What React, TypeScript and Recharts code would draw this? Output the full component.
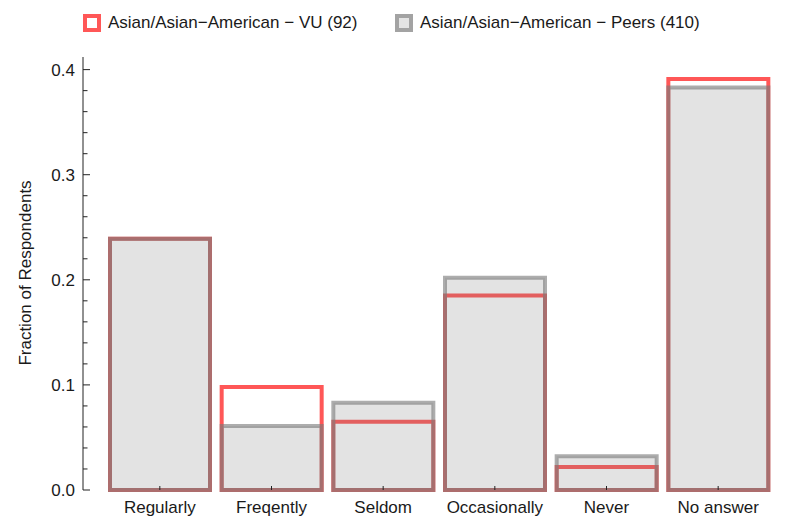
import { Bar, BarChart, XAxis, YAxis } from "recharts";

// survey categories (spelling kept as in the source)
const categories = ["Regularly", "Freqently", "Seldom", "Occasionally", "Never", "No answer"];
const vuValues = [0.239, 0.098, 0.065, 0.185, 0.022, 0.391];
const peerValues = [0.239, 0.061, 0.083, 0.202, 0.032, 0.383];

const vuName = "Asian/Asian\u2212American \u2212 VU (92)";
const peerName = "Asian/Asian\u2212American \u2212 Peers (410)";

const yTicks = [0, 0.02, 0.04, 0.06, 0.08, 0.1, 0.12, 0.14, 0.16, 0.18, 0.2, 0.22, 0.24, 0.26, 0.28, 0.3, 0.32, 0.34, 0.36, 0.38, 0.4];
const yMajor = [0, 0.1, 0.2, 0.3, 0.4];

const data = categories.map((cat, i) => ({ cat, vu: vuValues[i], peers: peerValues[i] }));

const FONT = "'Liberation Sans', Arial, sans-serif";
const RED = "#ff5757";
const GRAY = "#7a7a7a";

// layout
const W = 785;
const H = 516;
const TOP = 57;
const X_AXIS_H = 26;
const AXIS_Y = H - X_AXIS_H;

const YTick = ({ x, y, payload }: any) => {
  const major = yMajor.some((m) => Math.abs(m - payload.value) < 1e-6);
  return (
    <g>
      <line x1={x} x2={x + (major ? 7 : 4.5)} y1={y} y2={y} stroke="#222" strokeWidth={1} />
      {major && (
        <text x={x - 8} y={y + 6} textAnchor="end" fontSize={17} fontFamily={FONT} fill="#1a1a1a">
          {payload.value.toFixed(1)}
        </text>
      )}
    </g>
  );
};

const XTick = ({ x, payload }: any) => (
  <g>
    <line x1={x} x2={x} y1={AXIS_Y} y2={AXIS_Y - 4} stroke="#222" strokeWidth={1} />
    <text x={x} y={AXIS_Y + 23} textAnchor="middle" fontSize={17} fontFamily={FONT} fill="#1a1a1a">
      {payload.value}
    </text>
  </g>
);

const YLabel = () => (
  <text
    x={31}
    y={273}
    transform="rotate(-90 31 273)"
    textAnchor="middle"
    fontSize={17}
    fontFamily={FONT}
    fill="#1a1a1a"
  >
    Fraction of Respondents
  </text>
);

const LegendRow = () => (
  <div style={{ position: "absolute", left: 0, top: 0, width: W, height: 45, fontFamily: FONT, fontSize: 17, color: "#1a1a1a" }}>
    <div style={{ position: "absolute", left: 83, top: 14, width: 18, height: 18, boxSizing: "border-box", border: `4px solid ${RED}`, background: "#fff" }} />
    <div style={{ position: "absolute", left: 108, top: 12, lineHeight: "22px", whiteSpace: "nowrap" }}>{vuName}</div>
    <div style={{ position: "absolute", left: 395, top: 14, width: 18, height: 18, boxSizing: "border-box", border: "4px solid #a3a3a3", background: "#e4e4e4" }} />
    <div style={{ position: "absolute", left: 420, top: 12, lineHeight: "22px", whiteSpace: "nowrap" }}>{peerName}</div>
  </div>
);

export default function App() {
  return (
    <div style={{ position: "absolute", left: 0, top: 0, width: W, height: H, background: "#fff" }}>
      <LegendRow />
      <BarChart width={W} height={H} data={data} margin={{ top: TOP, right: 2, bottom: 0, left: 0 }}>
        <XAxis
          xAxisId="vu"
          dataKey="cat"
          height={X_AXIS_H}
          padding={{ left: 21, right: 9 }}
          axisLine={{ stroke: "#222" }}
          tickLine={false}
          tickSize={0}
          tickMargin={0}
          tick={<XTick />}
          interval={0}
        />
        <XAxis xAxisId="peers" dataKey="cat" hide padding={{ left: 21, right: 9 }} />
        <YAxis
          width={83}
          domain={[0, 0.412]}
          ticks={yTicks}
          interval={0}
          axisLine={{ stroke: "#222" }}
          tickLine={false}
          tickSize={0}
          tickMargin={0}
          tick={<YTick />}
          label={<YLabel />}
        />
        <Bar
          xAxisId="vu"
          dataKey="vu"
          name={vuName}
          barSize={100}
          fill="none"
          stroke={RED}
          strokeWidth={4}
          isAnimationActive={false}
        />
        <Bar
          xAxisId="peers"
          dataKey="peers"
          name={peerName}
          barSize={100}
          fill="#808080"
          fillOpacity={0.22}
          stroke={GRAY}
          strokeOpacity={0.62}
          strokeWidth={4}
          isAnimationActive={false}
        />
      </BarChart>
    </div>
  );
}
